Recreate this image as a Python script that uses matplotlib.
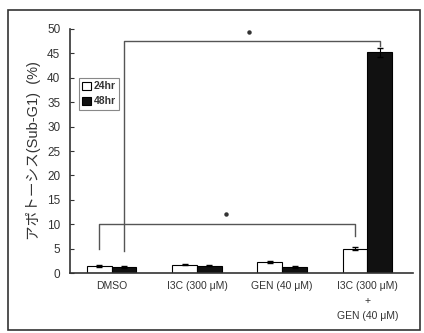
import numpy as np
import matplotlib
matplotlib.use('Agg')
import matplotlib.pyplot as plt
from matplotlib.patches import Rectangle

plt.rcParams['font.family'] = ['Liberation Sans', 'Noto Sans CJK JP', 'DejaVu Sans']

groups = ['DMSO', 'I3C (300 μM)', 'GEN (40 μM)', 'I3C (300 μM)\n+\nGEN (40 μM)']
vals_24 = [1.5, 1.7, 2.2, 5.0]
vals_48 = [1.2, 1.5, 1.2, 45.2]
err_24 = [0.2, 0.15, 0.2, 0.25]
err_48 = [0.15, 0.15, 0.15, 1.0]
series = ['24hr', '48hr']

fig = plt.figure(figsize=(4.24, 3.33), dpi=100)
ax = fig.add_axes([0.165, 0.18, 0.81, 0.733])

x = np.arange(len(groups))
w = 0.29
ax.bar(x - w / 2, vals_24, w, color='white', edgecolor='black', linewidth=0.8,
       yerr=err_24, error_kw=dict(ecolor='black', elinewidth=0.8, capsize=2), label=series[0])
ax.bar(x + w / 2, vals_48, w, color='#111111', edgecolor='black', linewidth=0.8,
       yerr=err_48, error_kw=dict(ecolor='black', elinewidth=0.8, capsize=2), label=series[1])

# significance brackets
bc = '#555555'
ax.plot([x[0] + w / 2, x[0] + w / 2, x[3] + w / 2, x[3] + w / 2], [4.5, 47.5, 47.5, 46.6],
        color=bc, lw=1)
ax.plot([x[0] - w / 2, x[0] - w / 2, x[3] - w / 2, x[3] - w / 2], [5.0, 10.0, 10.0, 7.5],
        color=bc, lw=1)
ax.plot([1.61, 1.34], [49.3, 12.2], 'o', ms=2.2, color='#333333', linestyle='none')

ax.set_xlim(-0.49, 3.54)
ax.set_ylim(0, 50)
ax.set_yticks(np.arange(0, 51, 5))
ax.tick_params(axis='y', direction='in', length=3, labelsize=8.5, colors='#333333', pad=7)
ax.set_xticks(x)
ax.set_xticklabels(groups, fontsize=7.5, color='#333333', linespacing=1.6)
ax.tick_params(axis='x', length=0, pad=6)
for s in ['top', 'right']:
    ax.spines[s].set_visible(False)
for s in ['left', 'bottom']:
    ax.spines[s].set_color('#333333')
    ax.spines[s].set_linewidth(1.2)

ax.set_ylabel('アポトーシス(Sub-G1)  (%)', fontsize=10.5, color='#333333', labelpad=4)

leg = ax.legend(loc='upper left', bbox_to_anchor=(0.012, 0.82),
                prop={'size': 7.5, 'weight': 'bold'},
                handlelength=0.8, handleheight=0.8, handletextpad=0.3,
                borderpad=0.3, labelspacing=0.5, fancybox=False, framealpha=1)
leg.get_frame().set_edgecolor('#888888')
leg.get_frame().set_linewidth(0.8)
for t in leg.get_texts():
    t.set_color('#333333')

fig.patches.append(Rectangle((8 / 424, 3 / 333), 412 / 424, 320 / 333, transform=fig.transFigure,
                             fill=False, edgecolor='#333333', linewidth=1.2))

fig.savefig('out.png', dpi=100)
